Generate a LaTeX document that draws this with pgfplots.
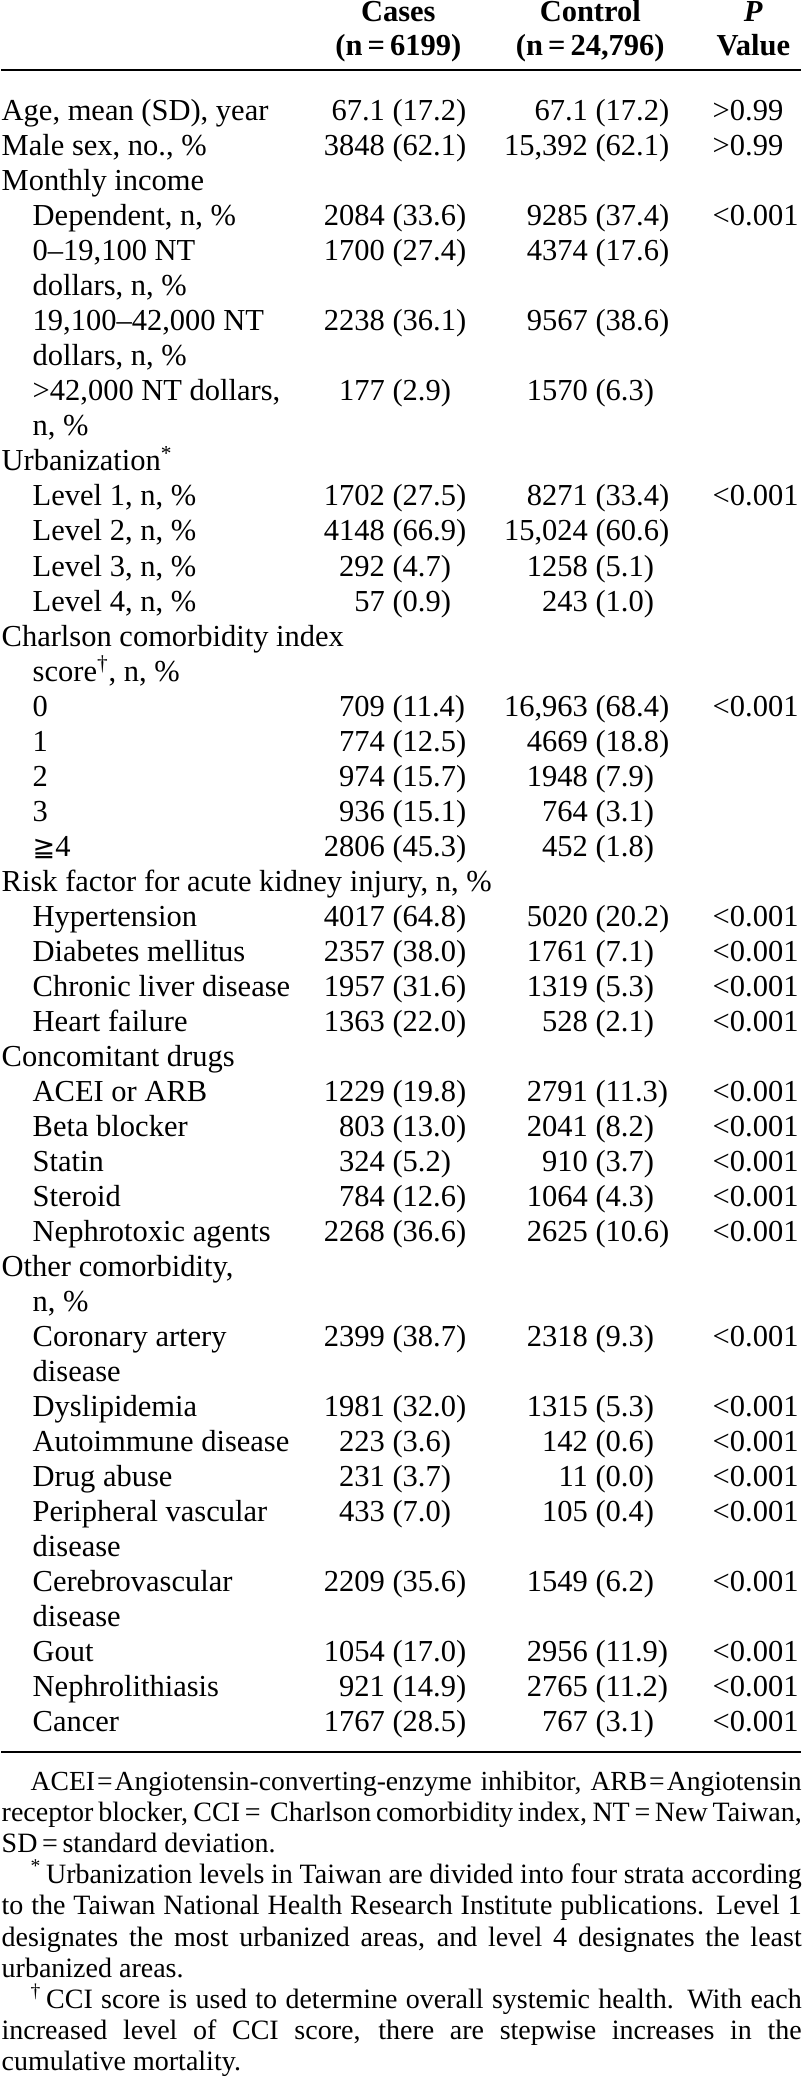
\documentclass[border=0pt]{standalone}
\usepackage{pgfplots}
\pgfplotsset{compat=1.18}
\usepackage{fontspec}
\setmainfont{Liberation Serif}
\newfontfamily\dejavu{DejaVu Sans}

\newcommand\TS{\fontsize{15.25}{17.5}\selectfont}
\newcommand\FS{\fontsize{14}{15.5}\selectfont}
% label: x, y, text
\newcommand\lab[3]{\node[anchor=base west,inner sep=0pt,font=\TS] at (axis cs:#1,#2) {#3};}
% cases: y, n, pct
\newcommand\cs[3]{\node[anchor=base east,inner sep=0pt,font=\TS] at (axis cs:384,#1) {#2\rlap{\ (#3)}};}
% control: y, n, pct
\newcommand\ct[3]{\node[anchor=base east,inner sep=0pt,font=\TS] at (axis cs:587,#1) {#2\rlap{\ (#3)}};}
% p value: y, text
\newcommand\pv[2]{\node[anchor=base west,inner sep=0pt,font=\TS] at (axis cs:711,#1) {#2};}
% justified footnote line: x, y, width, text
\newcommand\fl[4]{\node[anchor=base west,inner sep=0pt,font=\FS] at (axis cs:#1,#2) {\makebox[#3][s]{#4}};}
% ragged footnote line
\newcommand\fr[3]{\node[anchor=base west,inner sep=0pt,font=\FS] at (axis cs:#1,#2) {#3};}

\begin{document}
\begin{tikzpicture}
\begin{axis}[
  width=400pt, height=1040pt, scale only axis,
  xmin=0, xmax=800, ymin=0, ymax=2080, y dir=reverse,
  hide axis, clip=false]
\path (axis cs:0,0) rectangle (axis cs:800,2080);
% rules
\addplot[black, line width=1.3pt, forget plot] coordinates {(0,70) (800,70)};
\addplot[black, line width=1.3pt, forget plot] coordinates {(0,1752) (800,1752)};
% header
\node[anchor=base,inner sep=0pt,font=\TS\bfseries] at (axis cs:397,22) {Cases};
\node[anchor=base,inner sep=0pt,font=\TS\bfseries] at (axis cs:397,56) {(n\,=\,6199)};
\node[anchor=base,inner sep=0pt,font=\TS\bfseries] at (axis cs:589,22) {Control};
\node[anchor=base,inner sep=0pt,font=\TS\bfseries] at (axis cs:589,56) {(n\,=\,24,796)};
\node[anchor=base,inner sep=0pt,font=\TS\bfseries] at (axis cs:752,22) {\textit{P}};
\node[anchor=base,inner sep=0pt,font=\TS\bfseries] at (axis cs:752,56) {Value};
% rows
\lab{0}{121}{Age, mean (SD), year}\cs{121}{67.1}{17.2}\ct{121}{67.1}{17.2}\pv{121}{>0.99}
\lab{0}{156}{Male sex, no., \%}\cs{156}{3848}{62.1}\ct{156}{15,392}{62.1}\pv{156}{>0.99}
\lab{0}{191}{Monthly income}
\lab{31}{226}{Dependent, n, \%}\cs{226}{2084}{33.6}\ct{226}{9285}{37.4}\pv{226}{<0.001}
\lab{31}{261}{0–19,100 NT}\cs{261}{1700}{27.4}\ct{261}{4374}{17.6}
\lab{31}{296}{dollars, n, \%}
\lab{31}{331}{19,100–42,000 NT}\cs{331}{2238}{36.1}\ct{331}{9567}{38.6}
\lab{31}{366}{dollars, n, \%}
\lab{31}{401}{>42,000 NT dollars,}\cs{401}{177}{2.9}\ct{401}{1570}{6.3}
\lab{31}{436}{n, \%}
\lab{0}{471}{Urbanization\textsuperscript{*}}
\lab{31}{506}{Level 1, n, \%}\cs{506}{1702}{27.5}\ct{506}{8271}{33.4}\pv{506}{<0.001}
\lab{31}{541}{Level 2, n, \%}\cs{541}{4148}{66.9}\ct{541}{15,024}{60.6}
\lab{31}{576}{Level 3, n, \%}\cs{576}{292}{4.7}\ct{576}{1258}{5.1}
\lab{31}{611}{Level 4, n, \%}\cs{611}{57}{0.9}\ct{611}{243}{1.0}
\lab{0}{646}{Charlson comorbidity index}
\lab{31}{681}{score\textsuperscript{†}, n, \%}
\lab{31}{716}{0}\cs{716}{709}{11.4}\ct{716}{16,963}{68.4}\pv{716}{<0.001}
\lab{31}{751}{1}\cs{751}{774}{12.5}\ct{751}{4669}{18.8}
\lab{31}{786}{2}\cs{786}{974}{15.7}\ct{786}{1948}{7.9}
\lab{31}{821}{3}\cs{821}{936}{15.1}\ct{821}{764}{3.1}
\lab{31}{856}{{\dejavu\fontsize{13.5}{15}\selectfont ≧}4}\cs{856}{2806}{45.3}\ct{856}{452}{1.8}
\lab{0}{891}{Risk factor for acute kidney injury, n, \%}
\lab{31}{926}{Hypertension}\cs{926}{4017}{64.8}\ct{926}{5020}{20.2}\pv{926}{<0.001}
\lab{31}{961}{Diabetes mellitus}\cs{961}{2357}{38.0}\ct{961}{1761}{7.1}\pv{961}{<0.001}
\lab{31}{996}{Chronic liver disease}\cs{996}{1957}{31.6}\ct{996}{1319}{5.3}\pv{996}{<0.001}
\lab{31}{1031}{Heart failure}\cs{1031}{1363}{22.0}\ct{1031}{528}{2.1}\pv{1031}{<0.001}
\lab{0}{1066}{Concomitant drugs}
\lab{31}{1101}{ACEI or ARB}\cs{1101}{1229}{19.8}\ct{1101}{2791}{11.3}\pv{1101}{<0.001}
\lab{31}{1136}{Beta blocker}\cs{1136}{803}{13.0}\ct{1136}{2041}{8.2}\pv{1136}{<0.001}
\lab{31}{1171}{Statin}\cs{1171}{324}{5.2}\ct{1171}{910}{3.7}\pv{1171}{<0.001}
\lab{31}{1206}{Steroid}\cs{1206}{784}{12.6}\ct{1206}{1064}{4.3}\pv{1206}{<0.001}
\lab{31}{1241}{Nephrotoxic agents}\cs{1241}{2268}{36.6}\ct{1241}{2625}{10.6}\pv{1241}{<0.001}
\lab{0}{1276}{Other comorbidity,}
\lab{31}{1311}{n, \%}
\lab{31}{1346}{Coronary artery}\cs{1346}{2399}{38.7}\ct{1346}{2318}{9.3}\pv{1346}{<0.001}
\lab{31}{1381}{disease}
\lab{31}{1416}{Dyslipidemia}\cs{1416}{1981}{32.0}\ct{1416}{1315}{5.3}\pv{1416}{<0.001}
\lab{31}{1451}{Autoimmune disease}\cs{1451}{223}{3.6}\ct{1451}{142}{0.6}\pv{1451}{<0.001}
\lab{31}{1486}{Drug abuse}\cs{1486}{231}{3.7}\ct{1486}{11}{0.0}\pv{1486}{<0.001}
\lab{31}{1521}{Peripheral vascular}\cs{1521}{433}{7.0}\ct{1521}{105}{0.4}\pv{1521}{<0.001}
\lab{31}{1556}{disease}
\lab{31}{1591}{Cerebrovascular}\cs{1591}{2209}{35.6}\ct{1591}{1549}{6.2}\pv{1591}{<0.001}
\lab{31}{1626}{disease}
\lab{31}{1661}{Gout}\cs{1661}{1054}{17.0}\ct{1661}{2956}{11.9}\pv{1661}{<0.001}
\lab{31}{1696}{Nephrolithiasis}\cs{1696}{921}{14.9}\ct{1696}{2765}{11.2}\pv{1696}{<0.001}
\lab{31}{1731}{Cancer}\cs{1731}{1767}{28.5}\ct{1731}{767}{3.1}\pv{1731}{<0.001}
% footnotes
\fl{29}{1790}{385.5pt}{\fontsize{13.8}{15.5}\selectfont ACEI\kern1pt=\kern1pt Angiotensin-converting-enzyme inhibitor, ARB\kern1pt=\kern1pt Angiotensin}
\fl{0}{1821}{400pt}{receptor blocker, CCI\,=\, Charlson comorbidity index, NT\,=\,New Taiwan,}
\fr{0}{1852}{SD\,=\,standard deviation.}
\fl{29}{1883}{385.5pt}{\textsuperscript{*}\,Urbanization levels in Taiwan are divided into four strata according}
\fl{0}{1914}{400pt}{to the Taiwan National Health Research Institute publications. Level 1}
\fl{0}{1946}{400pt}{designates the most urbanized areas, and level 4 designates the least}
\fr{0}{1977}{urbanized areas.}
\fl{29}{2008}{385.5pt}{\textsuperscript{†}\,CCI score is used to determine overall systemic health. With each}
\fl{0}{2039}{400pt}{increased level of CCI score, there are stepwise increases in the}
\fr{0}{2070}{cumulative mortality.}
\end{axis}
\end{tikzpicture}
\end{document}
